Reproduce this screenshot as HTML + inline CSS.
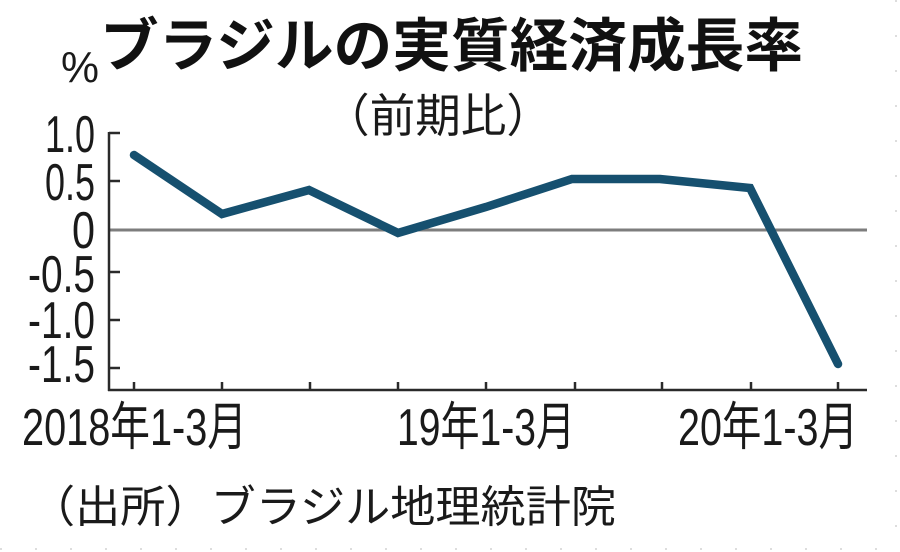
<!DOCTYPE html>
<html><head><meta charset="utf-8"><style>
html,body{margin:0;padding:0;background:#fff;}
svg{display:block;}
</style></head><body>
<svg width="900" height="552" viewBox="0 0 900 552" xmlns="http://www.w3.org/2000/svg">
<rect width="900" height="552" fill="#fff"/>
<line x1="0" y1="549" x2="900" y2="549" stroke="#ddd" stroke-width="2" stroke-dasharray="2 33"/>
<line x1="896" y1="0" x2="896" y2="552" stroke="#ddd" stroke-width="2" stroke-dasharray="2 33"/>
<g font-family="'Liberation Sans','Noto Sans CJK JP',sans-serif" fill="#1a1a1a">
<text x="100" y="66" font-size="58" font-weight="bold" textLength="703" lengthAdjust="spacingAndGlyphs" fill="#111">ブラジルの実質経済成長率</text>
<text x="61" y="82" font-size="44" textLength="38" lengthAdjust="spacingAndGlyphs">%</text>
<text x="324" y="132" font-size="46" textLength="228" lengthAdjust="spacingAndGlyphs">（前期比）</text>
<text x="45" y="152" font-size="52" textLength="50" lengthAdjust="spacingAndGlyphs">1.0</text>
<text x="45" y="200" font-size="52" textLength="50" lengthAdjust="spacingAndGlyphs">0.5</text>
<text x="72" y="248" font-size="52" textLength="23" lengthAdjust="spacingAndGlyphs">0</text>
<text x="28" y="292" font-size="52" textLength="67" lengthAdjust="spacingAndGlyphs">-0.5</text>
<text x="28" y="338" font-size="52" textLength="67" lengthAdjust="spacingAndGlyphs">-1.0</text>
<text x="28" y="382" font-size="52" textLength="67" lengthAdjust="spacingAndGlyphs">-1.5</text>
<text x="22" y="445" font-size="52" textLength="225" lengthAdjust="spacingAndGlyphs">2018年1-3月</text>
<text x="397" y="445" font-size="52" textLength="178" lengthAdjust="spacingAndGlyphs">19年1-3月</text>
<text x="678" y="445" font-size="52" textLength="180" lengthAdjust="spacingAndGlyphs">20年1-3月</text>
<text x="30" y="522" font-size="44" textLength="586" lengthAdjust="spacingAndGlyphs">（出所）ブラジル地理統計院</text>
</g>
<line x1="109" y1="230" x2="867" y2="230" stroke="#7d7d7d" stroke-width="3"/>
<g stroke="#2a2a2a" stroke-width="2.5" fill="none">
<line x1="109" y1="132" x2="109" y2="391"/>
<line x1="108" y1="390" x2="867" y2="390"/>
<line x1="109" y1="133" x2="120" y2="133"/>
<line x1="109" y1="181" x2="120" y2="181"/>
<line x1="109" y1="272" x2="120" y2="272"/>
<line x1="109" y1="320" x2="120" y2="320"/>
<line x1="109" y1="368" x2="120" y2="368"/>
<line x1="134" y1="382" x2="134" y2="390"/>
<line x1="222" y1="382" x2="222" y2="390"/>
<line x1="310" y1="382" x2="310" y2="390"/>
<line x1="398" y1="382" x2="398" y2="390"/>
<line x1="486" y1="382" x2="486" y2="390"/>
<line x1="575" y1="382" x2="575" y2="390"/>
<line x1="662" y1="382" x2="662" y2="390"/>
<line x1="751" y1="382" x2="751" y2="390"/>
<line x1="838" y1="382" x2="838" y2="390"/>
</g>
<polyline points="134,155 222,214 309,190 398,233 486,207 572,179 660,179 750,188 838,364" fill="none" stroke="#16506f" stroke-width="8.5" stroke-linejoin="miter" stroke-linecap="round"/>
</svg>
</body></html>
